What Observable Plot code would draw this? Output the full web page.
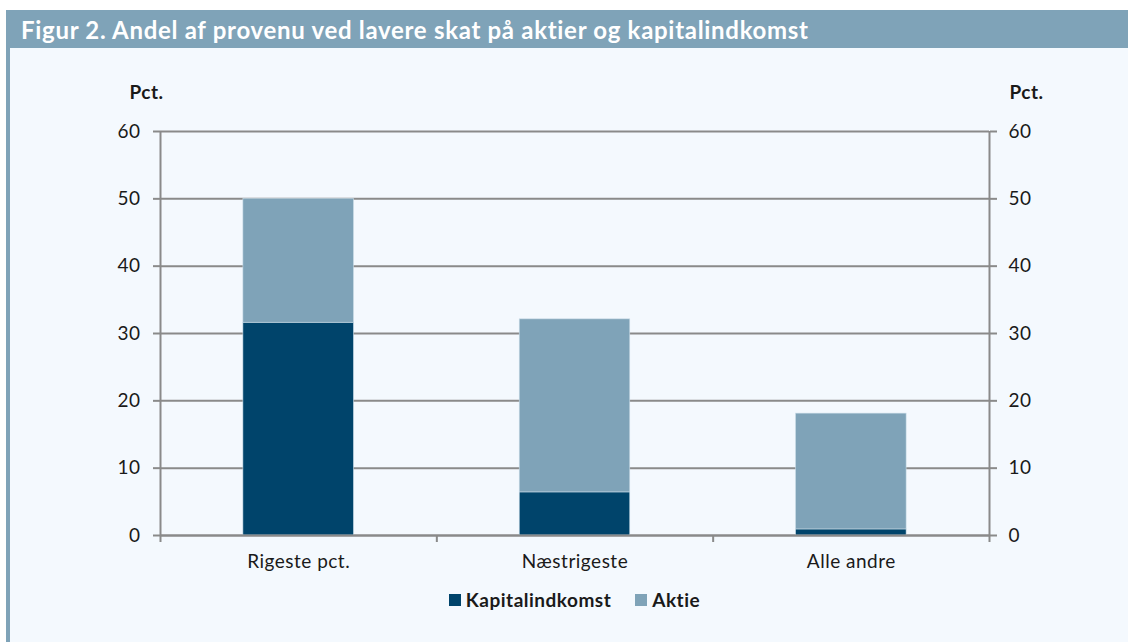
<!DOCTYPE html>
<html><head><meta charset="utf-8">
<script src="https://cdn.jsdelivr.net/npm/d3@7"></script>
<script src="https://cdn.jsdelivr.net/npm/@observablehq/plot@0.6"></script>
<style>
body{margin:0;background:#fff;font-family:Lato,"Open Sans",sans-serif;}
#page{position:relative;width:1128px;height:642px;overflow:hidden;}
#panel{position:absolute;left:6px;top:10px;right:0;bottom:0;background:#f4f9fe;border-left:4px solid #7fa3b8;}
#title{position:absolute;left:6px;top:10px;right:0;height:38px;background:#7fa3b8;color:#fff;font-weight:700;font-size:24px;letter-spacing:0.7px;line-height:39px;padding-left:15px;box-sizing:border-box;white-space:nowrap;}
#chart{position:absolute;left:0;top:48px;}
#legend{position:absolute;top:588px;left:160px;width:829px;display:flex;justify-content:center;gap:24px;font-weight:700;font-size:19px;letter-spacing:0.5px;color:#1a1a1a;}
.item{display:flex;align-items:center;gap:5px;}
.sw{width:12px;height:12px;display:inline-block;}
</style></head>
<body>
<div id="page">
  <div id="panel"></div>
  <div id="title">Figur 2. Andel af provenu ved lavere skat på aktier og kapitalindkomst</div>
  <div id="chart"></div>
  <div id="legend"></div>
</div>
<script>
const categories = ["Rigeste pct.", "Næstrigeste", "Alle andre"];
const series = ["Kapitalindkomst", "Aktie"];
const kapitalindkomst = [31.6, 6.4, 0.9];
const aktie = [18.4, 25.7, 17.2];
const yTicks = [0, 10, 20, 30, 40, 50, 60];
const colors = ["#00446b", "#7fa3b8"];

const rows = [];
categories.forEach((c, i) => {
  rows.push({i, cat: c, serie: series[0], value: kapitalindkomst[i]});
  rows.push({i, cat: c, serie: series[1], value: aktie[i]});
});
const idx = categories.map((c, i) => i);
const bounds = [-0.5, ...idx.map(i => i + 0.5)];
const gray = "#8a8a8a";

const chart = Plot.plot({
  width: 1128,
  height: 530,
  marginLeft: 160,
  marginRight: 139,
  marginTop: 83,
  marginBottom: 43,
  style: {fontFamily: "Lato, 'Open Sans', sans-serif", fontSize: "19px", letterSpacing: "0.5px", color: "#1a1a1a", background: "transparent"},
  x: {type: "linear", domain: [-0.5, categories.length - 0.5]},
  y: {domain: [0, 60]},
  color: {domain: series, range: colors},
  marks: [
    Plot.gridY(yTicks, {stroke: gray, strokeOpacity: 1, strokeWidth: 2}),
    Plot.rectY(rows, Plot.stackY({
      x1: d => d.i - 0.2, x2: d => d.i + 0.2, y: "value", fill: "serie",
      stroke: "#c9dbe7", strokeWidth: 0.6
    })),
    Plot.ruleY([0], {stroke: gray, strokeWidth: 2}),
    Plot.ruleX([bounds[0], bounds[bounds.length - 1]], {y1: 0, y2: 60, stroke: gray, strokeWidth: 2}),
    Plot.axisY(yTicks, {anchor: "left", tickSize: 7, tickPadding: 13, stroke: gray, strokeWidth: 2, label: null, fill: "#1a1a1a"}),
    Plot.axisY(yTicks, {anchor: "right", tickSize: 7, tickPadding: 12, stroke: gray, strokeWidth: 2, label: null, fill: "#1a1a1a"}),
    Plot.axisX(bounds, {tickSize: 7, tickFormat: () => "", stroke: gray, strokeWidth: 2, label: null}),
    Plot.axisX(idx, {tickSize: 0, tickPadding: 19, tickFormat: i => categories[i], label: null, fill: "#1a1a1a"}),
    Plot.text(["Pct."], {frameAnchor: "top-left", textAnchor: "start", lineAnchor: "bottom", dx: -31, dy: -33, fontWeight: "bold", fill: "#1a1a1a"}),
    Plot.text(["Pct."], {frameAnchor: "top-right", textAnchor: "start", lineAnchor: "bottom", dx: 20, dy: -33, fontWeight: "bold", fill: "#1a1a1a"})
  ]
});
document.getElementById("chart").appendChild(chart);

const legend = document.getElementById("legend");
series.forEach((s, k) => {
  const it = document.createElement("div");
  it.className = "item";
  it.innerHTML = `<span class="sw" style="background:${colors[k]}"></span><span>${s}</span>`;
  legend.appendChild(it);
});
</script>
</body></html>
